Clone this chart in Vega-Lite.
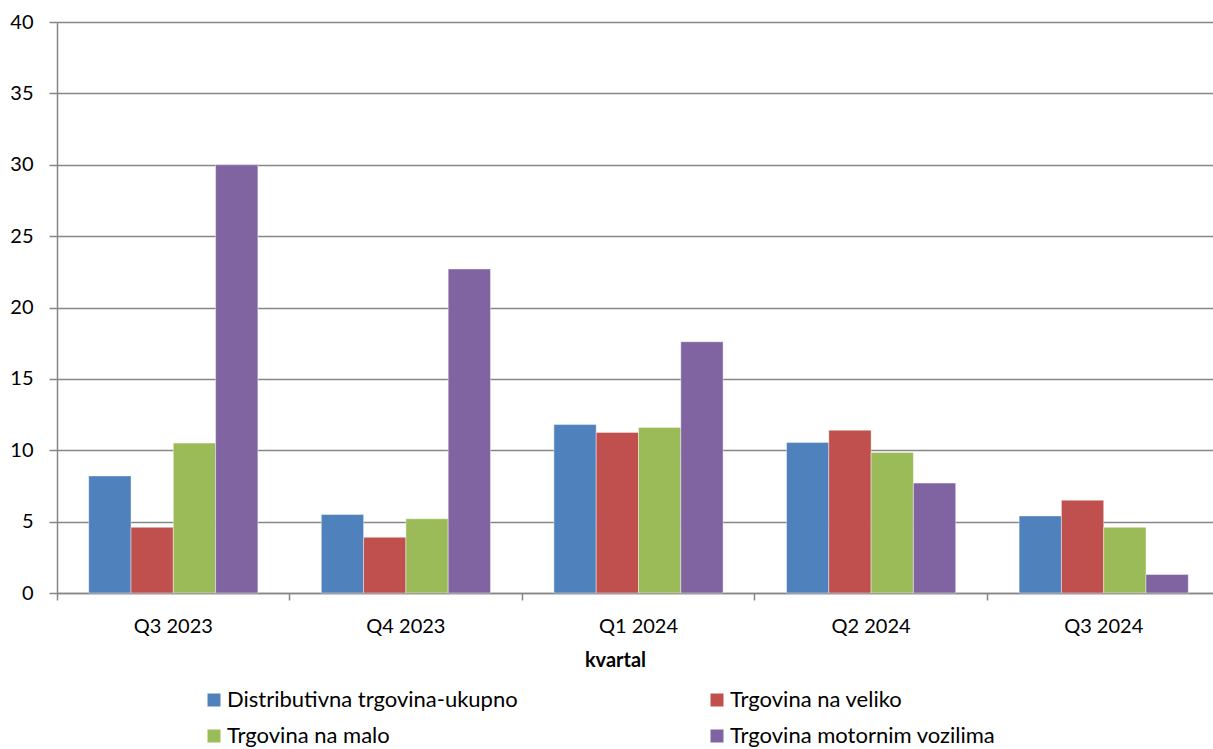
{
  "$schema": "https://vega.github.io/schema/vega-lite/v6.json",
  "autosize": "none",
  "width": 1156,
  "height": 571,
  "padding": {"left": 57, "top": 22, "right": 0, "bottom": 156},
  "background": "white",
  "config": {
    "font": "Lato",
    "view": {"stroke": null},
    "axis": {"labelFont": "Lato", "labelFontSize": 20, "labelColor": "#000000", "titleFont": "Lato"}
  },
  "data": {
    "values": [
      {"kvartal": "Q3 2023", "serija": "Distributivna trgovina-ukupno", "vrijednost": 8.2},
      {"kvartal": "Q3 2023", "serija": "Trgovina na veliko", "vrijednost": 4.6},
      {"kvartal": "Q3 2023", "serija": "Trgovina na malo", "vrijednost": 10.5},
      {"kvartal": "Q3 2023", "serija": "Trgovina motornim vozilima", "vrijednost": 30.0},
      {"kvartal": "Q4 2023", "serija": "Distributivna trgovina-ukupno", "vrijednost": 5.5},
      {"kvartal": "Q4 2023", "serija": "Trgovina na veliko", "vrijednost": 3.9},
      {"kvartal": "Q4 2023", "serija": "Trgovina na malo", "vrijednost": 5.2},
      {"kvartal": "Q4 2023", "serija": "Trgovina motornim vozilima", "vrijednost": 22.7},
      {"kvartal": "Q1 2024", "serija": "Distributivna trgovina-ukupno", "vrijednost": 11.8},
      {"kvartal": "Q1 2024", "serija": "Trgovina na veliko", "vrijednost": 11.25},
      {"kvartal": "Q1 2024", "serija": "Trgovina na malo", "vrijednost": 11.6},
      {"kvartal": "Q1 2024", "serija": "Trgovina motornim vozilima", "vrijednost": 17.6},
      {"kvartal": "Q2 2024", "serija": "Distributivna trgovina-ukupno", "vrijednost": 10.55},
      {"kvartal": "Q2 2024", "serija": "Trgovina na veliko", "vrijednost": 11.4},
      {"kvartal": "Q2 2024", "serija": "Trgovina na malo", "vrijednost": 9.85},
      {"kvartal": "Q2 2024", "serija": "Trgovina motornim vozilima", "vrijednost": 7.7},
      {"kvartal": "Q3 2024", "serija": "Distributivna trgovina-ukupno", "vrijednost": 5.4},
      {"kvartal": "Q3 2024", "serija": "Trgovina na veliko", "vrijednost": 6.5},
      {"kvartal": "Q3 2024", "serija": "Trgovina na malo", "vrijednost": 4.6},
      {"kvartal": "Q3 2024", "serija": "Trgovina motornim vozilima", "vrijednost": 1.3}
    ]
  },
  "mark": {"type": "bar", "stroke": "#ffffff", "strokeWidth": 0.6, "strokeOpacity": 0.7},
  "encoding": {
    "x": {
      "field": "kvartal",
      "type": "nominal",
      "sort": ["Q3 2023", "Q4 2023", "Q1 2024", "Q2 2024", "Q3 2024"],
      "scale": {"range": [0, 1163], "paddingInner": 0, "paddingOuter": 0},
      "axis": {
        "title": "kvartal",
        "titleFontSize": 20,
        "titleFontWeight": "bold",
        "titleColor": "#000000",
        "titleX": 558,
        "titleY": 67,
        "titleBaseline": "middle",
        "labelAngle": 0,
        "bandPosition": 0,
        "labelPadding": 16,
        "tickSize": 7,
        "tickColor": "#868686",
        "tickWidth": 1.5,
        "domainColor": "#868686",
        "domainWidth": 1.5,
        "grid": false
      }
    },
    "xOffset": {
      "field": "serija",
      "type": "nominal",
      "sort": ["Distributivna trgovina-ukupno", "Trgovina na veliko", "Trgovina na malo", "Trgovina motornim vozilima"],
      "scale": {"paddingInner": 0, "paddingOuter": 0.75}
    },
    "y": {
      "field": "vrijednost",
      "type": "quantitative",
      "scale": {"domain": [0, 40]},
      "axis": {
        "title": null,
        "values": [0, 5, 10, 15, 20, 25, 30, 35, 40],
        "tickSize": 8,
        "tickColor": "#868686",
        "tickWidth": 1.5,
        "labelPadding": 16,
        "gridColor": "#868686",
        "gridWidth": 1.5,
        "domainColor": "#868686",
        "domainWidth": 1.5
      }
    },
    "color": {
      "field": "serija",
      "type": "nominal",
      "scale": {
        "domain": ["Distributivna trgovina-ukupno", "Trgovina na veliko", "Trgovina na malo", "Trgovina motornim vozilima"],
        "range": ["#4F81BD", "#C0504D", "#9BBB59", "#8064A2"]
      },
      "legend": {
        "title": null,
        "orient": "none",
        "direction": "horizontal",
        "legendX": 146,
        "legendY": 667,
        "columns": 2,
        "columnPadding": 188,
        "rowPadding": 14,
        "symbolType": "square",
        "symbolSize": 169,
        "symbolStrokeWidth": 0,
        "labelFont": "Lato",
        "labelFontSize": 22,
        "labelColor": "#000000",
        "labelOffset": 2,
        "labelLimit": 400
      }
    }
  }
}
